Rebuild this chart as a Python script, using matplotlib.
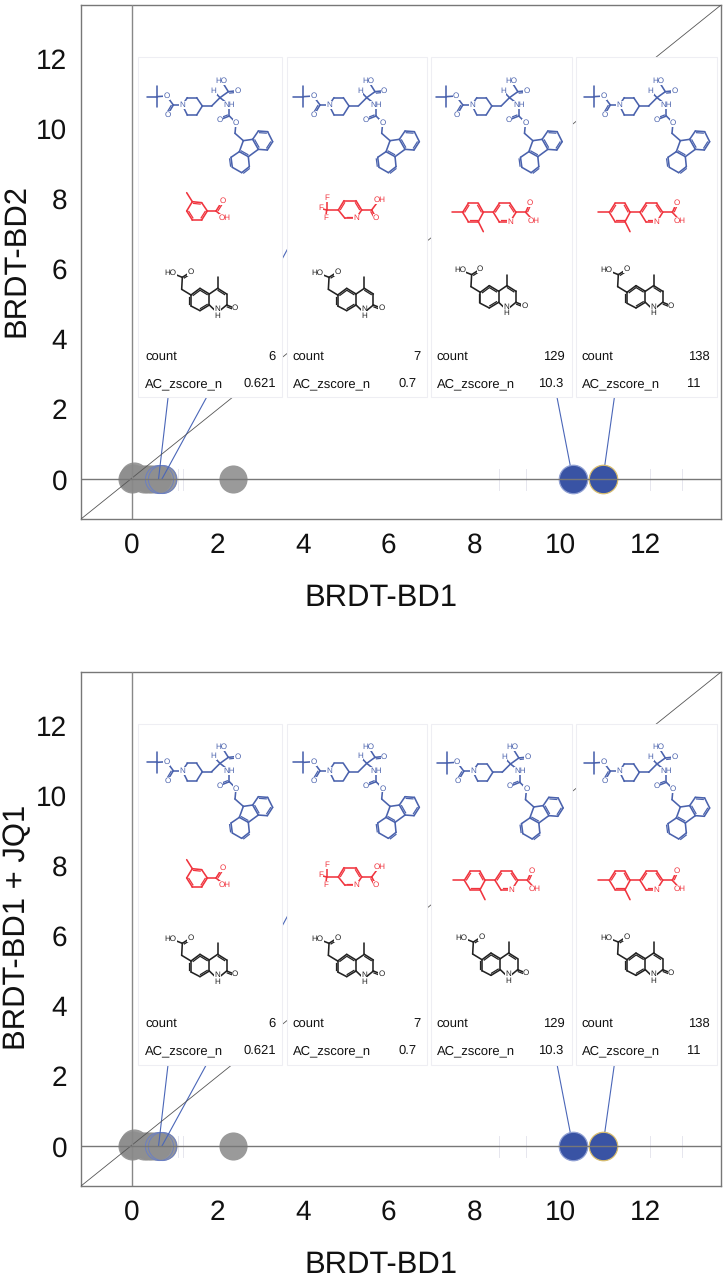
import matplotlib
matplotlib.use("Agg")
import matplotlib.pyplot as plt

plt.rcParams['font.family'] = ['Liberation Sans', 'DejaVu Sans']
plt.rcParams['text.hinting'] = 'none'
plt.rcParams['text.hinting_factor'] = 1

# points, grey ones first
grey_x = [0.0, 0.02, 0.05, 0.28, 0.38, 0.48, 0.58, 0.72, 2.35]
grey_y = [0.0, 0.03, 0.08, 0.0, 0.0, 0.0, 0.0, 0.0, 0.0]
ring_x = [0.621, 0.7]
ring_y = [0.0, 0.0]
hit_x = [10.3, 11.0]
hit_y = [0.0, 0.0]
faint_x = [1.08, 1.19, 8.57, 9.21, 12.1, 12.85]

counts = ['6', '7', '129', '138']
scores = ['0.621', '0.7', '10.3', '11']
ticks = [0, 2, 4, 6, 8, 10, 12]
y_names = ['BRDT-BD2', 'BRDT-BD1 + JQ1']

BLUE = '#4a62ad'
RED = '#f0343e'
BLACK = '#222222'

# structures, drawn in zoomed pixels of the first card (3x)
blue_at = {'c': (80, 140), 'm1': (50, 140), 'm2': (80, 108), 'm3': (80, 172), 'o1': (110, 138), 'c1': (130, 165),
           'o2': (112, 195), 'n': (157, 165), 'p1': (172, 143), 'p2': (200, 143), 'p3': (217, 168), 'p4': (200, 195),
           'p5': (172, 195), 'ch2': (245, 168), 'ca': (270, 143), 'h': (250, 122), 'cc': (295, 125), 'oh': (275, 93),
           'o3': (322, 122), 'nh': (298, 165), 'c2': (298, 198), 'o4': (268, 210), 'o5': (318, 218), 'ch2b': (315, 250),
           'c9': (340, 272), 'a': (368, 268), 'b': (385, 243), 'd': (413, 245), 'e': (428, 275), 'f': (412, 300),
           'g': (385, 298), 'i': (355, 320), 'j': (328, 305), 'k': (303, 322), 'l': (307, 352), 'q': (335, 368),
           'r': (358, 350)}
blue_single = [('c', 'm1'), ('c', 'm2'), ('c', 'm3'), ('c', 'o1'), ('o1', 'c1'), ('c1', 'n'), ('n', 'p1'), ('p1', 'p2'),
               ('p2', 'p3'), ('p3', 'p4'), ('p4', 'p5'), ('p5', 'n'), ('p3', 'ch2'), ('ch2', 'ca'), ('ca', 'h'),
               ('ca', 'cc'), ('cc', 'oh'), ('ca', 'nh'), ('nh', 'c2'), ('c2', 'o5'), ('o5', 'ch2b'), ('ch2b', 'c9'),
               ('c9', 'a'), ('c9', 'j'), ('a', 'b'), ('d', 'e'), ('f', 'g'), ('g', 'i'), ('j', 'k'),
               ('l', 'q'), ('r', 'i')]
blue_double = [('c1', 'o2'), ('cc', 'o3'), ('c2', 'o4'), ('b', 'd'), ('e', 'f'), ('g', 'a'), ('k', 'l'), ('q', 'r'),
               ('i', 'j')]
blue_text = {'o1': 'O', 'o2': 'O', 'n': 'N', 'h': 'H', 'oh': 'HO', 'o3': 'O', 'nh': 'NH', 'o4': 'O', 'o5': 'O'}

toluic_at = {'m': (170, 428), 'a': (187, 455), 'b': (215, 458), 'c': (232, 483), 'd': (215, 510), 'e': (187, 510),
             'f': (170, 483), 'cc': (258, 483), 'o': (277, 453), 'oh': (285, 505)}
toluic_single = [('m', 'a'), ('b', 'c'), ('d', 'e'), ('f', 'a'), ('c', 'cc'), ('cc', 'oh')]
toluic_double = [('a', 'b'), ('c', 'd'), ('e', 'f'), ('cc', 'o')]
toluic_text = {'o': 'O', 'oh': 'OH'}

cf3_at = {'cf': (590, 480), 'f1': (590, 443), 'f2': (571, 475), 'f3': (587, 503), 'a': (625, 480), 'b': (642, 452),
          'c': (678, 452), 'd': (695, 480), 'n': (678, 505), 'e': (645, 505), 'cc': (725, 480), 'oh': (748, 449),
          'o': (738, 503)}
cf3_single = [('cf', 'f1'), ('cf', 'f2'), ('cf', 'f3'), ('cf', 'a'), ('b', 'c'), ('d', 'n'), ('e', 'a'),
              ('d', 'cc'), ('cc', 'oh')]
cf3_double = [('a', 'b'), ('c', 'd'), ('n', 'e'), ('cc', 'o')]
cf3_text = {'f1': 'F', 'f2': 'F', 'f3': 'F', 'n': 'N', 'oh': 'OH', 'o': 'O'}

biaryl_at = {'m': (965, 487), 'a': (998, 487), 'b': (1015, 460), 'c': (1045, 460), 'd': (1060, 487), 'e': (1045, 515),
             'f': (1015, 515), 'm2': (1060, 545), 'g': (1090, 487), 'h': (1108, 460), 'i': (1140, 460), 'j': (1158, 487),
             'n': (1140, 516), 'k': (1108, 516), 'cc': (1187, 487), 'o': (1200, 458), 'oh': (1210, 512)}
biaryl_single = [('m', 'a'), ('b', 'c'), ('d', 'e'), ('f', 'a'), ('e', 'm2'), ('d', 'g'), ('h', 'i'), ('j', 'n'),
                 ('k', 'g'), ('j', 'cc'), ('cc', 'oh')]
biaryl_double = [('a', 'b'), ('c', 'd'), ('e', 'f'), ('g', 'h'), ('i', 'j'), ('n', 'k'), ('cc', 'o')]
biaryl_text = {'n': 'N', 'o': 'O', 'oh': 'OH'}

quin_at = {'ho': (122, 668), 'c': (157, 682), 'o': (182, 666), 'ch2': (155, 718), 'a': (183, 735), 'b': (210, 715),
           'c1': (238, 732), 'd': (238, 765), 'e': (210, 782), 'f': (183, 768), 'g': (263, 715), 'me': (263, 682),
           'h': (290, 732), 'i': (290, 765), 'nh': (262, 788), 'o2': (315, 775)}
quin_single = [('ho', 'c'), ('c', 'ch2'), ('ch2', 'a'), ('c1', 'd'), ('e', 'f'),
               ('c1', 'g'), ('g', 'me'), ('h', 'i'), ('i', 'nh'), ('nh', 'd')]
quin_double = [('c', 'o'), ('a', 'f'), ('a', 'b'), ('b', 'c1'), ('d', 'e'), ('g', 'h'), ('i', 'o2')]
quin_text = {'ho': 'HO', 'o': 'O', 'nh': 'N\nH', 'o2': 'O'}


def draw_mol(ov, atoms, single, double, text, color, dx, dy):
    def pos(name):
        return 130 + atoms[name][0] / 3 + dx, 50 + atoms[name][1] / 3 + dy

    for a, b in single:
        (x0, y0), (x1, y1) = pos(a), pos(b)
        ov.plot([x0, x1], [y0, y1], color=color, lw=1.15, solid_capstyle='round', zorder=3)
    for a, b in double:
        (x0, y0), (x1, y1) = pos(a), pos(b)
        ln = ((x1 - x0) ** 2 + (y1 - y0) ** 2) ** 0.5
        ox, oy = -(y1 - y0) / ln * 1.6, (x1 - x0) / ln * 1.6
        sx, sy = (x1 - x0) * 0.14, (y1 - y0) * 0.14
        ov.plot([x0, x1], [y0, y1], color=color, lw=1.15, solid_capstyle='round', zorder=3)
        ov.plot([x0 + ox + sx, x1 + ox - sx], [y0 + oy + sy, y1 + oy - sy], color=color, lw=0.9, zorder=3)
    for name, s in text.items():
        x, y = pos(name)
        ov.text(x, y, s, color=color, fontsize=5.8, ha='center', va='center', linespacing=0.9, zorder=6,
                bbox=dict(facecolor='white', edgecolor='none', pad=0.25))


fig = plt.figure(figsize=(7.26, 12.78), dpi=100)

# frames in pixels: top, bottom
frames = [(5, 519), (672, 1186)]
card_x = [(138, 282), (287, 427), (431, 572), (576, 717)]
label_x = [145, 292.7, 436.7, 581.7]
value_x = [276, 420.7, 565, 710]
score_x = [276, 417, 563, 700]
card_y = [(57, 397), (724, 1065)]
text_y = [(357, 384), (1024, 1051)]
xlabel_y = [-0.126, -0.126]

# second point of each leader line, they run on behind the cards
lead_x = [1.0, 4.39, 9.67, 11.59]
lead_y = [3.97, 8.26, 3.97, 5.11]
lead_from = [0.621, 0.7, 10.3, 11.0]

for p, (top, bottom) in enumerate(frames):
    ax = fig.add_axes([81 / 726, 1 - bottom / 1278, 640 / 726, (bottom - top) / 1278])
    ax.set_xlim(-1.19, 13.76)
    ax.set_ylim(-1.14, 13.54)
    ax.set_xticks(ticks)
    ax.set_yticks(ticks)
    ax.tick_params(length=0, labelsize=20, pad=10, labelcolor='#111111')
    for s in ax.spines.values():
        s.set_color('#777777')
        s.set_linewidth(1.0)

    ax.plot([0, 1], [0, 1], transform=ax.transAxes, color='#555555', lw=0.6, zorder=4)
    for fx in faint_x:
        ax.plot([fx, fx], [-0.3, 0.3], color='#e6e6ee', lw=0.7, zorder=1)
    for lx, ly, fx in zip(lead_x, lead_y, lead_from):
        ax.plot([fx, lx], [0, ly], color='#4a66b8', lw=0.8, zorder=3.5)

    ax.scatter(grey_x, grey_y, s=410, color='#8f8f8f', alpha=0.9, linewidths=0, zorder=3)
    ax.scatter(ring_x, ring_y, s=410, facecolor='#8f8f8f33', edgecolor='#6a7fc4', linewidths=0.7, zorder=3)
    ax.scatter(hit_x[0], hit_y[0], s=420, facecolor='#3953a4', edgecolor='#8f9fd2', linewidths=0.9, zorder=5)
    ax.scatter(hit_x[1], hit_y[1], s=420, facecolor='#3953a4', edgecolor='#d8bd6e', linewidths=0.9, zorder=5)

    ax.axhline(0, color='#777777', lw=1.0, zorder=6)
    ax.axvline(0, color='#888888', lw=1.0, zorder=4)

    ax.set_xlabel('BRDT-BD1', fontsize=22.3, color='#111111')
    ax.xaxis.set_label_coords((381 - 81) / 640, xlabel_y[p])
    ax.set_ylabel(y_names[p], fontsize=22.3, color='#111111')
    ax.yaxis.set_label_coords(-0.078, 0.503)

# cards and structures go on one pixel sized layer
ov = fig.add_axes([0, 0, 1, 1], zorder=5)
ov.set_xlim(0, 726)
ov.set_ylim(1278, 0)
ov.axis('off')

blue_dx = [[0, 146.7, 289.5, 437], [0, 146.7, 290.5, 437]]
blue_dy = [[0, 0, 0, 0], [665.7, 665.7, 666.3, 666.3]]
red_dx = [[0, 0, 0, 146.7], [0, 0, 1.7, 146.7]]
red_dy = [[0, 0, 0, 0], [667, 667, 668, 668]]
black_dx = [[0, 146.7, 289.3, 436], [0, 146.7, 291, 436]]
black_dy = [[0, 0, -2.7, -2.7], [666, 666, 664.7, 664.7]]
red_mols = [(toluic_at, toluic_single, toluic_double, toluic_text), (cf3_at, cf3_single, cf3_double, cf3_text),
            (biaryl_at, biaryl_single, biaryl_double, biaryl_text), (biaryl_at, biaryl_single, biaryl_double, biaryl_text)]

for p in range(2):
    y0, y1 = card_y[p]
    for c in range(4):
        x0, x1 = card_x[c]
        ov.fill([x0, x1, x1, x0], [y0, y0, y1, y1], facecolor='white', edgecolor='#eeeef3', lw=0.8, zorder=2)
        draw_mol(ov, blue_at, blue_single, blue_double, blue_text, BLUE, blue_dx[p][c], blue_dy[p][c])
        at, sg, db, tx = red_mols[c]
        draw_mol(ov, at, sg, db, tx, RED, red_dx[p][c], red_dy[p][c])
        draw_mol(ov, quin_at, quin_single, quin_double, quin_text, BLACK, black_dx[p][c], black_dy[p][c])
        ov.text(label_x[c], text_y[p][0], 'count', fontsize=9.1, va='center', color='#111111', zorder=6)
        ov.text(label_x[c], text_y[p][1], 'AC_zscore_n', fontsize=9.1, va='center', color='#111111', zorder=6)
        ov.text(value_x[c], text_y[p][0], counts[c], fontsize=9.1, va='center', ha='right', color='#111111', zorder=6)
        ov.text(score_x[c], text_y[p][1], scores[c], fontsize=9.1, va='center', ha='right', color='#111111', zorder=6)

fig.savefig('out.png', dpi=100)
